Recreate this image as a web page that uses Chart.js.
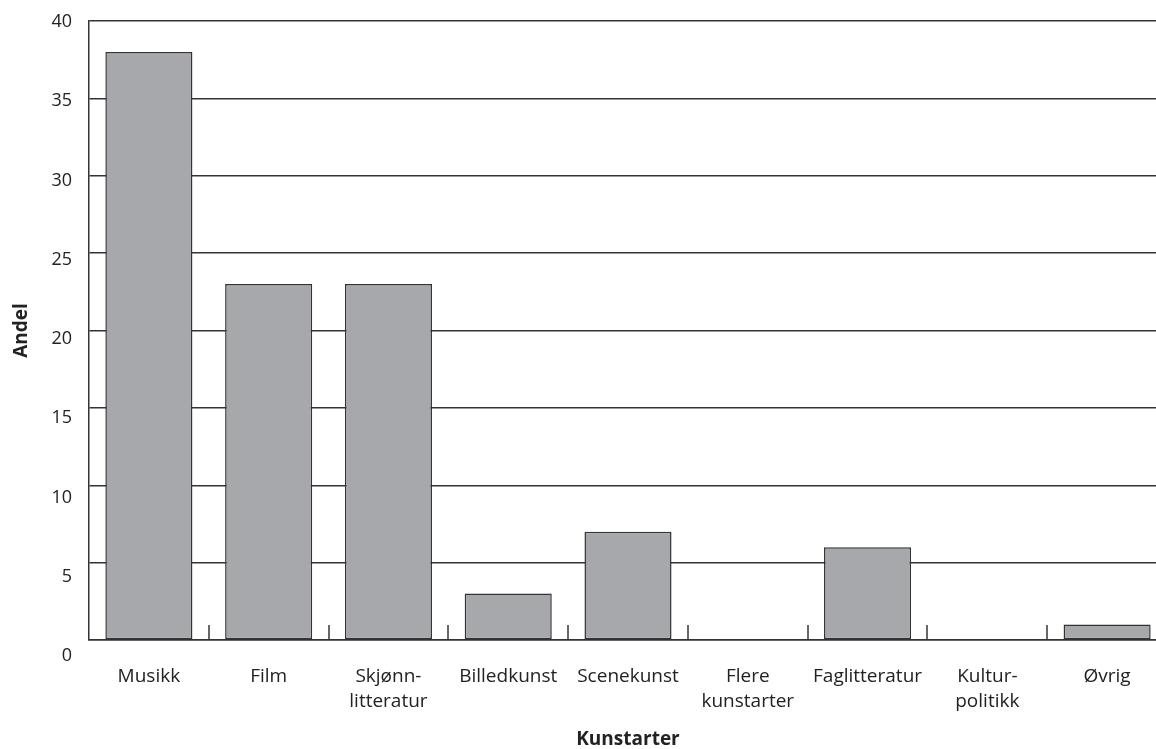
<!DOCTYPE html>
<html>
<head>
<meta charset="utf-8">
<script src="https://cdn.jsdelivr.net/npm/chart.js@4"></script>
<style>
  html, body { margin: 0; padding: 0; background: #fff; overflow: hidden; }
  #wrap { width: 1167px; height: 749px; position: relative; }
</style>
</head>
<body>
<div id="wrap"><canvas id="c"></canvas></div>
<script>
const categories = [
  ['Musikk'], ['Film'], ['Skjønn-', 'litteratur'], ['Billedkunst'], ['Scenekunst'],
  ['Flere', 'kunstarter'], ['Faglitteratur'], ['Kultur-', 'politikk'], ['Øvrig']
];
const values = [38, 23, 23, 3, 7, 0, 6, 0, 1];
const yTicks = [0, 5, 10, 15, 20, 25, 30, 35, 40];
const xTitle = 'Kunstarter';
const yTitle = 'Andel';

const boundaryTicks = {
  id: 'boundaryTicks',
  afterDraw(chart) {
    const x = chart.scales.x, ctx = chart.ctx, b = chart.chartArea.bottom;
    ctx.save();
    ctx.strokeStyle = '#333';
    ctx.lineWidth = 1.5;
    for (let i = 1; i < categories.length; i++) {
      const px = Math.round((x.getPixelForValue(i - 1) + x.getPixelForValue(i)) / 2);
      ctx.beginPath();
      ctx.moveTo(px, b);
      ctx.lineTo(px, b - 15);
      ctx.stroke();
    }
    ctx.restore();
  }
};

Chart.defaults.font.family = "'Open Sans', 'Noto Sans', sans-serif";

new Chart(document.getElementById('c'), {
  type: 'bar',
  data: {
    labels: categories,
    datasets: [{
      data: values,
      backgroundColor: '#a7a8ab',
      borderColor: '#333',
      borderWidth: 1.5,
      borderSkipped: false,
      categoryPercentage: 1,
      barPercentage: 0.727
    }]
  },
  options: {
    responsive: true,
    maintainAspectRatio: false,
    animation: false,
    layout: { padding: { top: 21, right: 0, bottom: 0, left: 0 } },
    plugins: { legend: { display: false }, tooltip: { enabled: false } },
    scales: {
      x: {
        offset: true,
        grid: { display: false, drawTicks: false },
        border: { display: true, color: '#333', width: 1.5 },
        ticks: {
          color: '#222', padding: 24, maxRotation: 0, autoSkip: false,
          font: { size: 19, lineHeight: 1.33 }
        },
        title: {
          display: true, text: xTitle, color: '#222',
          font: { size: 19, weight: 'bold', lineHeight: 1.0 }, padding: { top: 0, bottom: 0 }
        },
        afterFit: s => { s.height = 109; s.paddingLeft = 0; s.paddingRight = 0; }
      },
      y: {
        position: 'left',
        min: 0, max: 40,
        weight: 0,
        grid: { color: '#333', lineWidth: 1.4, drawTicks: false },
        border: { display: true, color: '#333', width: 1.5 },
        ticks: { display: false },
        afterBuildTicks: s => { s.ticks = yTicks.map(v => ({ value: v })); },
        afterFit: s => { s.width = 0; s.paddingTop = 0; s.paddingBottom = 0; }
      },
      yLab: {
        position: 'left',
        min: 1.01, max: 40.06,
        weight: 1,
        grid: { display: false, drawTicks: false },
        border: { display: false },
        ticks: { color: '#222', padding: 17, font: { size: 18 } },
        afterBuildTicks: s => { s.ticks = yTicks.map(v => ({ value: v })); },
        title: {
          display: true, text: yTitle, color: '#222',
          font: { size: 19, weight: 'bold' }, padding: { top: 10, bottom: 0 }
        },
        afterFit: s => { s.width = 89; s.paddingTop = 0; s.paddingBottom = 0; }
      }
    }
  },
  plugins: [boundaryTicks]
});
</script>
</body>
</html>
